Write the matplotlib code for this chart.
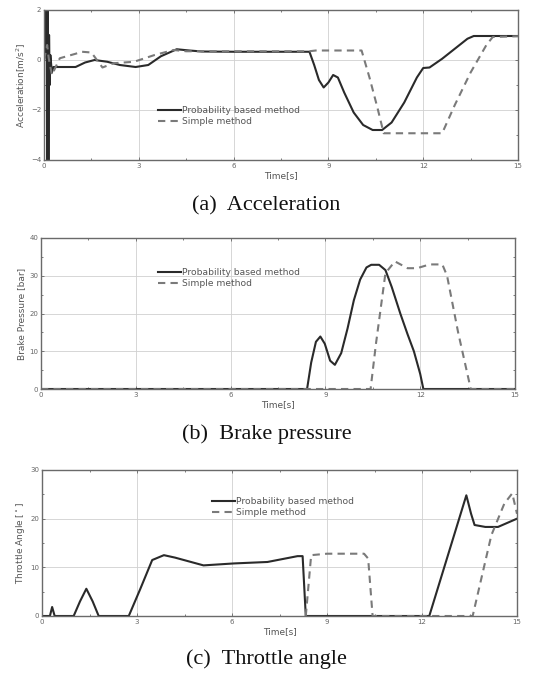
import matplotlib
matplotlib.use("Agg")
import matplotlib.pyplot as plt
from matplotlib.ticker import MultipleLocator

# ---------------- data ----------------
acc_prob_t = [0, 0.06, 0.08, 0.10, 0.12, 0.14, 0.16, 0.18, 0.20, 0.25, 0.3, 1.0, 1.3, 1.6, 2.0,
              2.4, 2.9, 3.3, 3.7, 4.2, 4.6, 5.0, 6.0, 7.0, 8.0, 8.4, 8.55, 8.7, 8.85, 9.0,
              9.15, 9.3, 9.5, 9.8, 10.1, 10.4, 10.7, 11.0, 11.4, 11.8, 12.0, 12.2, 12.6,
              13.0, 13.4, 13.6, 15.0]
acc_prob_v = [0, 0.5, 2.5, -4.5, 2.5, -4.5, 1.0, -1.0, 0.2, -0.5, -0.28, -0.28, -0.1, 0.0,
              -0.07, -0.2, -0.28, -0.2, 0.15, 0.43, 0.38, 0.34, 0.33, 0.33, 0.33, 0.33,
              -0.2, -0.8, -1.1, -0.9, -0.6, -0.7, -1.3, -2.1, -2.6, -2.8, -2.8, -2.5, -1.7,
              -0.7, -0.32, -0.3, 0.05, 0.45, 0.85, 0.96, 0.96]

acc_simple_t = [0, 0.1, 0.15, 0.25, 0.5, 1.0, 1.2, 1.5, 1.85, 2.2, 2.85, 3.5, 4.1, 4.5, 8.4,
                8.6, 10.05, 10.3, 10.55, 10.75, 12.6, 13.0, 13.5, 14.0, 14.2, 15.0]
acc_simple_v = [0, 0.6, 0.07, -0.6, 0.07, 0.25, 0.33, 0.3, -0.3, -0.13, -0.07, 0.2, 0.4, 0.35,
                0.35, 0.38, 0.38, -0.7, -1.9, -2.93, -2.93, -1.8, -0.5, 0.6, 0.92, 0.95]

brake_prob_t = [0, 8.42, 8.55, 8.7, 8.84, 8.98, 9.15, 9.3, 9.5, 9.7, 9.9, 10.1, 10.3, 10.45,
                10.7, 10.9, 11.1, 11.37, 11.6, 11.8, 12.0, 12.1, 15.0]
brake_prob_v = [0, 0, 7.0, 12.5, 13.9, 12.0, 7.5, 6.4, 9.5, 16.0, 23.5, 29.0, 32.2, 32.9,
                32.9, 31.5, 27.0, 20.0, 14.5, 10.0, 4.0, 0, 0]

brake_simple_t = [0, 10.43, 10.6, 10.9, 11.2, 11.6, 11.9, 12.3, 12.7, 12.85, 13.2, 13.6, 15.0]
brake_simple_v = [0, 0, 12.0, 30.7, 33.8, 32.0, 32.0, 33.0, 33.0, 30.0, 15.0, 0, 0]

thr_prob_t = [0, 0.25, 0.32, 0.4, 1.0, 1.2, 1.4, 1.6, 1.79, 2.74, 3.1, 3.48, 3.85, 4.2, 5.1,
              6.06, 7.12, 8.07, 8.23, 8.33, 12.23, 13.4, 13.55, 13.66, 14.0, 14.4, 15.0]
thr_prob_v = [0, 0, 1.85, 0, 0, 3.0, 5.6, 3.0, 0, 0, 5.5, 11.5, 12.5, 12.0, 10.4,
              10.8, 11.1, 12.3, 12.3, 0, 0, 24.8, 21.0, 18.7, 18.3, 18.3, 20.0]

thr_simple_t = [8.33, 8.5, 9.0, 10.17, 10.3, 10.44, 13.6, 14.19, 14.6, 14.85, 15.0]
thr_simple_v = [0, 12.5, 12.8, 12.8, 11.8, 0, 0, 16.6, 23.1, 25.2, 21.0]

x_ticks = [0, 3, 6, 9, 12, 15]
captions = ["(a)  Acceleration", "(b)  Brake pressure", "(c)  Throttle angle"]
ylabels = ["Acceleration[m/s$^2$]", "Brake Pressure [bar]", "Throttle Angle [$^\\circ$]"]
legend_labels = ["Probability based method", "Simple method"]

# ---------------- figure ----------------
fig = plt.figure(figsize=(5.33, 6.76), dpi=100)
fig.patch.set_facecolor("white")

positions = [
    [44 / 533, (676 - 160) / 676, 474 / 533, 150 / 676],
    [41 / 533, (676 - 389) / 676, 474 / 533, 151 / 676],
    [42 / 533, (676 - 616) / 676, 475 / 533, 146 / 676],
]
ylims = [(-4, 2), (0, 40), (0, 30)]
ymajor = [2, 10, 10]
yminor = [1, 5, 5]
series = [
    (acc_prob_t, acc_prob_v, acc_simple_t, acc_simple_v),
    (brake_prob_t, brake_prob_v, brake_simple_t, brake_simple_v),
    (thr_prob_t, thr_prob_v, thr_simple_t, thr_simple_v),
]
legend_anchor = [(0.24, 0.36), (0.247, 0.80), (0.358, 0.815)]
caption_y = [(676 - 206) / 676, (676 - 434) / 676, (676 - 659) / 676]

solid_col = "#2a2a2a"
dash_col = "#7a7a7a"

for i in range(3):
    ax = fig.add_axes(positions[i])
    t1, v1, t2, v2 = series[i]
    ax.plot(t1, v1, color=solid_col, lw=1.5, label=legend_labels[0], solid_joinstyle="round")
    ax.plot(t2, v2, color=dash_col, lw=1.5, ls=(0, (3.5, 2.5)), label=legend_labels[1])
    ax.set_xlim(0, 15)
    ax.set_ylim(*ylims[i])
    ax.set_xticks(x_ticks)
    ax.xaxis.set_minor_locator(MultipleLocator(1.5))
    ax.yaxis.set_major_locator(MultipleLocator(ymajor[i]))
    ax.yaxis.set_minor_locator(MultipleLocator(yminor[i]))
    ax.grid(True, which="major", color="#d0d0d0", lw=0.6)
    ax.tick_params(which="both", direction="in", top=True, right=True,
                   labelsize=5, colors="#666666", length=2.5, width=0.6, pad=2)
    ax.tick_params(which="minor", length=1.5)
    for s in ax.spines.values():
        s.set_color("#6a6a6a")
        s.set_linewidth(1.0)
    ax.set_xlabel("Time[s]", fontsize=6.5, color="#555555", labelpad=1.5)
    ax.set_ylabel(ylabels[i], fontsize=6.5, color="#555555", labelpad=2)
    leg = ax.legend(loc="upper left", bbox_to_anchor=legend_anchor[i], frameon=False,
                    fontsize=6.6, handlelength=2.5, handletextpad=0.15, labelspacing=0.25,
                    borderpad=0.0, borderaxespad=0.0)
    for txt in leg.get_texts():
        txt.set_color("#555555")
    fig.text(0.5, caption_y[i], captions[i], ha="center", va="center",
             fontsize=16, family="Liberation Serif", color="#111111")

fig.savefig("out.png", dpi=100, facecolor="white")
